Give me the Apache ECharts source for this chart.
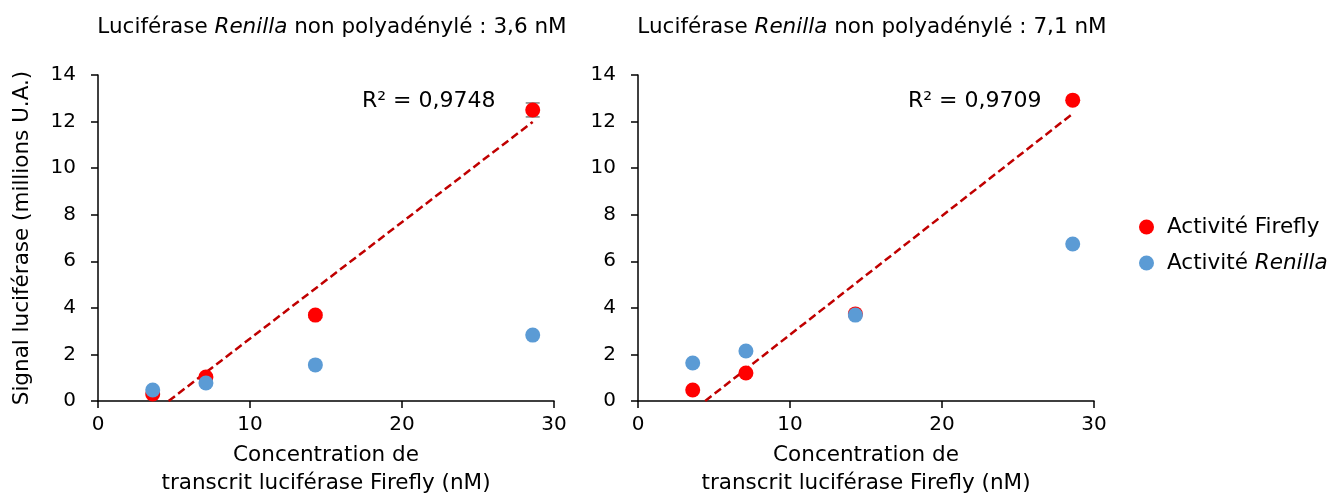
<!DOCTYPE html>
<html><head><meta charset="utf-8">
<script src="https://cdn.jsdelivr.net/npm/echarts@6/dist/echarts.min.js"></script>
<style>html,body{margin:0;padding:0;background:#fff}#c{width:1342px;height:496px}</style>
</head><body><div id="c"></div>
<script>
// ---- data ----
const concentrations = [3.6, 7.1, 14.3, 28.6];
const fireflyLeft = [0.30, 1.03, 3.69, 12.50];
const fireflyLeftErr = [0.05, 0.08, 0.10, 0.30];
const renillaLeft = [0.47, 0.77, 1.55, 2.83];
const fireflyRight = [0.47, 1.20, 3.74, 12.92];
const fireflyRightErr = [0.05, 0.08, 0.10, 0.12];
const renillaRight = [1.63, 2.15, 3.69, 6.74];
const r2Left = 'R² = 0,9748';
const r2Right = 'R² = 0,9709';

const FONT = 'DejaVu Sans';
function pairs(xs, ys) { return xs.map((x, i) => [x, ys[i]]); }
function fit(xs, ys) {
  const n = xs.length;
  const mx = xs.reduce((a, b) => a + b, 0) / n, my = ys.reduce((a, b) => a + b, 0) / n;
  let sxx = 0, sxy = 0;
  xs.forEach((x, i) => { sxx += (x - mx) ** 2; sxy += (x - mx) * (ys[i] - my); });
  const slope = sxy / sxx, inter = my - slope * mx;
  const x0 = -inter / slope, x1 = Math.max(...xs);
  return [[x0, 0], [x1, slope * x1 + inter]];
}
function errData(xs, ys, es) { return xs.map((x, i) => [x, ys[i] - es[i], ys[i] + es[i]]); }
function errSeries(xi, yi, data) {
  return {
    type: 'custom', xAxisIndex: xi, yAxisIndex: yi, z: 1.5, silent: true,
    data: data,
    renderItem: function (params, api) {
      const x = api.value(0);
      const lo = api.coord([x, api.value(1)]);
      const hi = api.coord([x, api.value(2)]);
      const w = 7;
      const st = { stroke: '#7F7F7F', lineWidth: 1.5 };
      return { type: 'group', children: [
        { type: 'line', shape: { x1: lo[0], y1: lo[1], x2: hi[0], y2: hi[1] }, style: st },
        { type: 'line', shape: { x1: lo[0] - w, y1: lo[1], x2: lo[0] + w, y2: lo[1] }, style: st },
        { type: 'line', shape: { x1: hi[0] - w, y1: hi[1], x2: hi[0] + w, y2: hi[1] }, style: st }
      ] };
    }
  };
}

const axisLine = { show: true, lineStyle: { color: '#000', width: 1.5 } };
const axisTick = { show: true, length: 7, inside: false, lineStyle: { color: '#000', width: 1.5 } };
const axisLabel = { color: '#000', fontFamily: FONT, fontSize: 20 };
const TS = 21.5;

function xAxis(gi) {
  return {
    type: 'value', gridIndex: gi, min: 0, max: 30, interval: 10,
    axisLine, axisTick, axisLabel: Object.assign({ margin: 14 }, axisLabel),
    splitLine: { show: false },
    name: 'Concentration de\ntranscrit luciférase Firefly (nM)', nameLocation: 'middle', nameGap: 40,
    nameTextStyle: { color: '#000', fontFamily: FONT, fontSize: TS, lineHeight: 28 }
  };
}
function yAxis(gi, named) {
  const a = {
    type: 'value', gridIndex: gi, min: 0, max: 14, interval: 2,
    axisLine, axisTick, axisLabel: Object.assign({ margin: 22 }, axisLabel),
    splitLine: { show: false }
  };
  if (named) {
    a.name = 'Signal luciférase (millions U.A.)';
    a.nameLocation = 'middle'; a.nameGap = 65;
    a.nameTextStyle = { color: '#000', fontFamily: FONT, fontSize: TS };
  }
  return a;
}
const titleRich = { i: { fontStyle: 'italic', fontFamily: FONT, fontSize: TS, color: '#000' } };
const marker = { symbol: 'circle', symbolSize: 15 };
const trendStyle = { color: '#C00000', width: 2.5, type: [8, 4] };

const option = {
  animation: false,
  backgroundColor: '#fff',
  title: [
    { text: 'Luciférase {i|Renilla} non polyadénylé : 3,6 nM', left: 327, top: 11, textAlign: 'center',
      textStyle: { fontFamily: FONT, fontSize: TS, fontWeight: 'normal', color: '#000', rich: titleRich } },
    { text: 'Luciférase {i|Renilla} non polyadénylé : 7,1 nM', left: 867, top: 11, textAlign: 'center',
      textStyle: { fontFamily: FONT, fontSize: TS, fontWeight: 'normal', color: '#000', rich: titleRich } }
  ],
  grid: [
    { left: 98, top: 75, width: 456, height: 326, containLabel: false, outerBoundsMode: 'none' },
    { left: 638, top: 75, width: 456, height: 326, containLabel: false, outerBoundsMode: 'none' }
  ],
  xAxis: [xAxis(0), xAxis(1)],
  yAxis: [yAxis(0, true), yAxis(1, false)],
  legend: {
    orient: 'vertical', left: 1134, top: 211, itemWidth: 15, itemHeight: 15, itemGap: 14,
    icon: 'circle',
    data: ['Activité Firefly', 'Activité Renilla'],
    formatter: function (n) { return n === 'Activité Renilla' ? 'Activité {i|Renilla}' : n; },
    textStyle: { fontFamily: FONT, fontSize: TS, color: '#000', padding: [0, 0, 0, 8],
      rich: { i: { fontStyle: 'italic', fontFamily: FONT, fontSize: TS, color: '#000' } } }
  },
  graphic: [
    { type: 'text', left: 362, top: 90, style: { text: r2Left, font: '22px "DejaVu Sans"', fill: '#000' } },
    { type: 'text', left: 908, top: 90, style: { text: r2Right, font: '22px "DejaVu Sans"', fill: '#000' } }
  ],
  series: [
    { type: 'line', name: 'trendL', xAxisIndex: 0, yAxisIndex: 0, data: fit(concentrations, fireflyLeft),
      showSymbol: false, lineStyle: trendStyle, z: 1, silent: true },
    { type: 'line', name: 'trendR', xAxisIndex: 1, yAxisIndex: 1, data: fit(concentrations, fireflyRight),
      showSymbol: false, lineStyle: trendStyle, z: 1, silent: true },
    errSeries(0, 0, errData(concentrations, fireflyLeft, fireflyLeftErr)),
    Object.assign({ type: 'scatter', name: 'Activité Firefly', xAxisIndex: 0, yAxisIndex: 0,
      data: pairs(concentrations, fireflyLeft), itemStyle: { color: '#FF0000', opacity: 1 }, z: 2 }, marker),
    Object.assign({ type: 'scatter', name: 'Activité Firefly', xAxisIndex: 1, yAxisIndex: 1,
      data: pairs(concentrations, fireflyRight), itemStyle: { color: '#FF0000', opacity: 1 }, z: 2 }, marker),
    Object.assign({ type: 'scatter', name: 'Activité Renilla', xAxisIndex: 0, yAxisIndex: 0,
      data: pairs(concentrations, renillaLeft), itemStyle: { color: '#5B9BD5', opacity: 1 }, z: 4 }, marker),
    Object.assign({ type: 'scatter', name: 'Activité Renilla', xAxisIndex: 1, yAxisIndex: 1,
      data: pairs(concentrations, renillaRight), itemStyle: { color: '#5B9BD5', opacity: 1 }, z: 4 }, marker)
  ]
};
const chart = echarts.init(document.getElementById('c'), null, { renderer: 'canvas' });
chart.setOption(option);
</script></body></html>
